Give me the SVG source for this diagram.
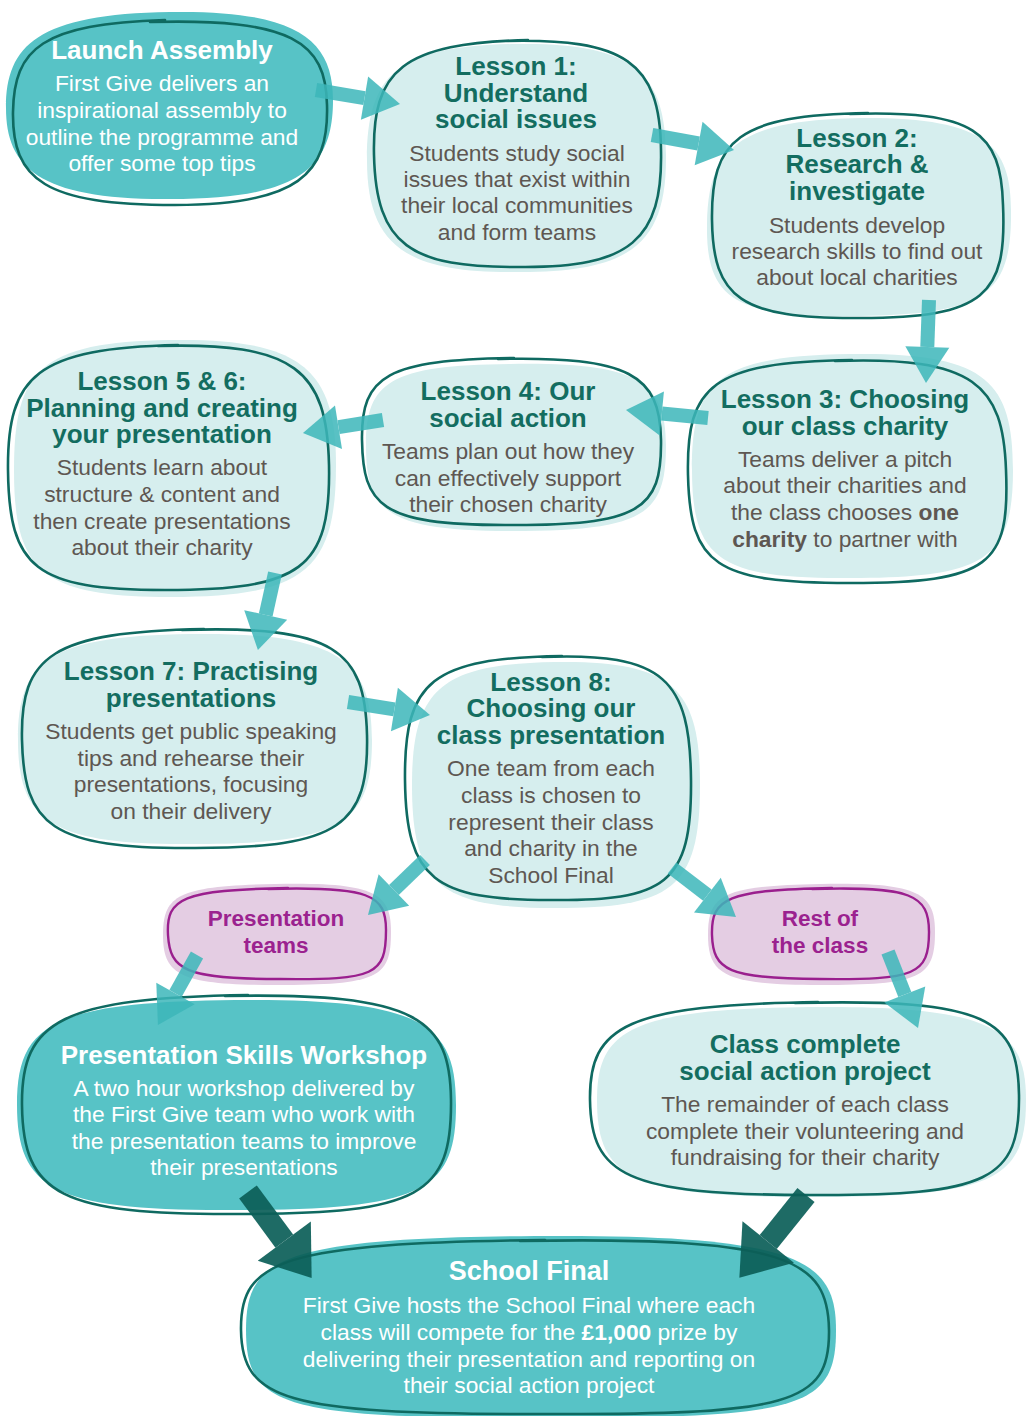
<svg xmlns="http://www.w3.org/2000/svg" width="1031" height="1416" viewBox="0 0 1031 1416">
<defs>
<style>
.ft{fill:#57c3c6}
.fl{fill:#d6eeee}
.fp{fill:#e4cde3}
.o{fill:none;stroke:#0f6a61;stroke-width:2.6;stroke-linecap:round;stroke-linejoin:round}
.op{fill:none;stroke:#9a1f8e;stroke-width:2.4;stroke-linecap:round}
text{font-family:"Liberation Sans",Arial,Helvetica,sans-serif;text-anchor:middle}
.t{font-size:26px;font-weight:bold;fill:#136d60}
.b{font-size:22.8px;fill:#5e5752}
.tw{font-size:26px;font-weight:bold;fill:#ffffff}
.bw{font-size:22.8px;fill:#ffffff}
.p{font-size:22.5px;font-weight:bold;fill:#9b228f}
.a{fill:none;stroke:#3db7ba;stroke-width:14;marker-end:url(#ah)}
.ad{fill:none;stroke:#0c5f58;stroke-width:22;marker-end:url(#ahd)}
</style>
<marker id="ah" markerUnits="userSpaceOnUse" markerWidth="40" markerHeight="44" refX="0" refY="22" orient="auto" overflow="visible">
<path d="M0,0 L36,22 L0,44 Z" fill="#3db7ba"/>
</marker>
<marker id="ahd" markerUnits="userSpaceOnUse" markerWidth="48" markerHeight="66" refX="0" refY="33" orient="auto" overflow="visible">
<path d="M0,0 L46,33 L0,66 Z" fill="#0c5f58"/>
</marker>
</defs>

<g id="launch">
<path class="ft" d="M170,12 C298,10 333,40 333,100 C333,168 300,199 170,199 C40,200 6,168 6,108 C6,45 38,14 170,12 Z"/>
<path class="o" d="M150,22 C292,18 326,42 327,105 C329,174 298,205 175,205 C45,205 12,180 13,112 C14,48 42,24 165,20"/>
<text class="tw" x="162" y="59">Launch Assembly</text>
<text class="bw" x="162" y="91">First Give delivers an</text>
<text class="bw" x="162" y="118">inspirational assembly to</text>
<text class="bw" x="162" y="145">outline the programme and</text>
<text class="bw" x="162" y="171">offer some top tips</text>
</g>

<g id="lesson1">
<path class="fl" d="M515,44 C630,42 666,70 666,155 C667,245 630,273 515,272 C405,273 367,245 367,160 C367,72 400,46 515,44 Z"/>
<path class="o" d="M505,41 C625,38 660,62 661,150 C663,240 630,268 520,267 C410,268 376,245 374,155 C372,70 402,43 528,40"/>
<text class="t" x="516" y="75">Lesson 1:</text>
<text class="t" x="516" y="102">Understand</text>
<text class="t" x="516" y="128">social issues</text>
<text class="b" x="517" y="161">Students study social</text>
<text class="b" x="517" y="187">issues that exist within</text>
<text class="b" x="517" y="213">their local communities</text>
<text class="b" x="517" y="240">and form teams</text>
</g>

<g id="lesson2">
<path class="fl" d="M860,118 C985,117 1011,145 1011,210 C1012,295 985,314 860,316 C735,318 706,300 707,225 C708,150 735,120 860,118 Z"/>
<path class="o" d="M850,114 C975,110 1001,132 1003,205 C1007,295 985,318 860,318 C740,319 713,298 712,220 C711,140 737,115 868,113"/>
<text class="t" x="857" y="147">Lesson 2:</text>
<text class="t" x="857" y="173">Research &amp;</text>
<text class="t" x="857" y="200">investigate</text>
<text class="b" x="857" y="233">Students develop</text>
<text class="b" x="857" y="259">research skills to find out</text>
<text class="b" x="857" y="285">about local charities</text>
</g>

<g id="lesson3">
<path class="fl" d="M850,354 C985,352 1013,380 1013,470 C1013,560 985,578 850,578 C720,579 692,560 692,470 C692,380 718,356 850,354 Z"/>
<path class="o" d="M835,361 C975,356 1003,385 1006,470 C1010,565 990,583 850,583 C715,583 690,565 688,475 C686,385 712,362 852,360"/>
<text class="t" x="845" y="408">Lesson 3: Choosing</text>
<text class="t" x="845" y="435">our class charity</text>
<text class="b" x="845" y="467">Teams deliver a pitch</text>
<text class="b" x="845" y="493">about their charities and</text>
<text class="b" x="845" y="520">the class chooses <tspan font-weight="bold">one</tspan></text>
<text class="b" x="845" y="547"><tspan font-weight="bold">charity</tspan> to partner with</text>
</g>

<g id="lesson4">
<path class="fl" d="M510,364 C635,362 666,380 666,445 C666,515 645,531 510,531 C385,531 366,510 366,445 C366,382 390,365 510,364 Z"/>
<path class="o" d="M498,359 C630,356 660,375 661,440 C662,510 640,526 505,525 C380,525 363,505 362,440 C361,375 387,360 514,358"/>
<text class="t" x="508" y="400">Lesson 4: Our</text>
<text class="t" x="508" y="427">social action</text>
<text class="b" x="508" y="459">Teams plan out how they</text>
<text class="b" x="508" y="486">can effectively support</text>
<text class="b" x="508" y="512">their chosen charity</text>
</g>

<g id="lesson56">
<path class="fl" d="M170,340 C300,338 336,368 336,465 C336,570 305,597 170,597 C40,597 14,570 14,470 C14,370 40,342 170,340 Z"/>
<path class="o" d="M158,346 C295,342 327,370 329,465 C331,570 300,590 165,590 C35,590 9,568 8,470 C7,375 37,348 178,345"/>
<text class="t" x="162" y="390">Lesson 5 &amp; 6:</text>
<text class="t" x="162" y="417">Planning and creating</text>
<text class="t" x="162" y="443">your presentation</text>
<text class="b" x="162" y="475">Students learn about</text>
<text class="b" x="162" y="502">structure &amp; content and</text>
<text class="b" x="162" y="529">then create presentations</text>
<text class="b" x="162" y="555">about their charity</text>
</g>

<g id="lesson7">
<path class="fl" d="M190,634 C338,632 372,660 372,740 C372,825 340,844 190,844 C50,845 18,820 18,740 C18,660 50,636 190,634 Z"/>
<path class="o" d="M182,630 C335,625 365,650 367,735 C369,825 340,848 195,848 C50,849 24,825 22,740 C20,655 52,632 204,629"/>
<text class="t" x="191" y="680">Lesson 7: Practising</text>
<text class="t" x="191" y="707">presentations</text>
<text class="b" x="191" y="739">Students get public speaking</text>
<text class="b" x="191" y="766">tips and rehearse their</text>
<text class="b" x="191" y="792">presentations, focusing</text>
<text class="b" x="191" y="819">on their delivery</text>
</g>

<g id="lesson8">
<path class="fl" d="M555,662 C675,660 700,690 700,785 C700,890 670,908 555,908 C440,908 412,885 412,785 C412,690 440,664 555,662 Z"/>
<path class="o" d="M542,657 C665,652 690,680 691,780 C692,885 665,901 550,900 C435,900 406,880 405,780 C404,680 432,658 562,656"/>
<text class="t" x="551" y="691">Lesson 8:</text>
<text class="t" x="551" y="717">Choosing our</text>
<text class="t" x="551" y="744">class presentation</text>
<text class="b" x="551" y="776">One team from each</text>
<text class="b" x="551" y="803">class is chosen to</text>
<text class="b" x="551" y="830">represent their class</text>
<text class="b" x="551" y="856">and charity in the</text>
<text class="b" x="551" y="883">School Final</text>
</g>

<g id="presentation-teams">
<path class="fp" d="M275,884 C375,882 391,893 391,932 C391,978 378,985 275,985 C180,985 163,975 163,935 C163,895 178,886 275,884 Z"/>
<path class="op" d="M268,889 C370,886 386,895 386,930 C386,975 375,980 280,979 C185,979 170,970 168,935 C166,898 182,890 288,888"/>
<text class="p" x="276" y="926">Presentation</text>
<text class="p" x="276" y="953">teams</text>
</g>

<g id="rest-of-class">
<path class="fp" d="M820,884 C918,882 935,893 935,932 C935,978 920,985 820,985 C725,985 708,975 708,935 C708,895 722,886 820,884 Z"/>
<path class="op" d="M812,889 C912,886 929,895 929,932 C929,975 915,980 820,979 C728,979 713,970 712,935 C711,898 727,890 832,888"/>
<text class="p" x="820" y="926">Rest of</text>
<text class="p" x="820" y="953">the class</text>
</g>

<g id="workshop">
<path class="ft" d="M235,1000 C425,998 456,1025 456,1105 C456,1190 425,1210 235,1210 C55,1211 17,1190 17,1105 C17,1025 50,1002 235,1000 Z"/>
<path class="o" d="M225,996 C420,992 450,1020 451,1100 C452,1195 420,1214 240,1214 C60,1215 23,1195 22,1105 C21,1020 62,998 248,995"/>
<text class="tw" x="244" y="1064">Presentation Skills Workshop</text>
<text class="bw" x="244" y="1096">A two hour workshop delivered by</text>
<text class="bw" x="244" y="1122">the First Give team who work with</text>
<text class="bw" x="244" y="1149">the presentation teams to improve</text>
<text class="bw" x="244" y="1175">their presentations</text>
</g>

<g id="class-complete">
<path class="fl" d="M810,1007 C995,1005 1026,1030 1026,1100 C1026,1180 995,1197 810,1197 C630,1197 597,1178 597,1100 C597,1030 630,1009 810,1007 Z"/>
<path class="o" d="M795,1003 C990,998 1018,1020 1019,1095 C1020,1180 990,1196 810,1195 C625,1195 591,1175 590,1100 C589,1025 627,1005 818,1002"/>
<text class="t" x="805" y="1053">Class complete</text>
<text class="t" x="805" y="1080">social action project</text>
<text class="b" x="805" y="1112">The remainder of each class</text>
<text class="b" x="805" y="1139">complete their volunteering and</text>
<text class="b" x="805" y="1165">fundraising for their charity</text>
</g>

<g id="school-final">
<path class="ft" d="M535,1236 C800,1234 836,1260 836,1330 C836,1410 800,1418 535,1418 C280,1418 246,1405 246,1330 C246,1258 280,1238 535,1236 Z"/>
<path class="o" d="M520,1241 C790,1236 828,1260 829,1330 C830,1405 790,1415 535,1414 C285,1414 242,1400 241,1330 C240,1260 282,1243 545,1240"/>
<text class="tw" x="529" y="1280" style="font-size:27px">School Final</text>
<text class="bw" x="529" y="1313">First Give hosts the School Final where each</text>
<text class="bw" x="529" y="1340">class will compete for the <tspan font-weight="bold">£1,000</tspan> prize by</text>
<text class="bw" x="529" y="1367">delivering their presentation and reporting on</text>
<text class="bw" x="529" y="1393">their social action project</text>
</g>

<g id="connectors">
<g opacity="0.85">
<line class="a" x1="316" y1="90" x2="364.5" y2="98.1"/>
<line class="a" x1="652" y1="135" x2="698.6" y2="143.5"/>
<line class="a" x1="929" y1="300" x2="927.3" y2="347"/>
<line class="a" x1="708" y1="418" x2="661.8" y2="413.5"/>
<line class="a" x1="383" y1="420" x2="338.5" y2="427.2"/>
<line class="a" x1="275" y1="573" x2="265.7" y2="614.9"/>
<line class="a" x1="348" y1="702" x2="394.4" y2="709.4"/>
<line class="a" x1="425" y1="860" x2="393.9" y2="890"/>
<line class="a" x1="672" y1="868" x2="707.4" y2="895.1"/>
<line class="a" x1="197" y1="955" x2="175.5" y2="993.5"/>
<line class="a" x1="888" y1="952" x2="904.8" y2="994.5"/>
</g>
<g opacity="0.92">
<line class="ad" x1="248" y1="1192" x2="284.3" y2="1241.1"/>
<line class="ad" x1="806" y1="1195" x2="768.2" y2="1242"/>
</g>
</g>
</svg>
